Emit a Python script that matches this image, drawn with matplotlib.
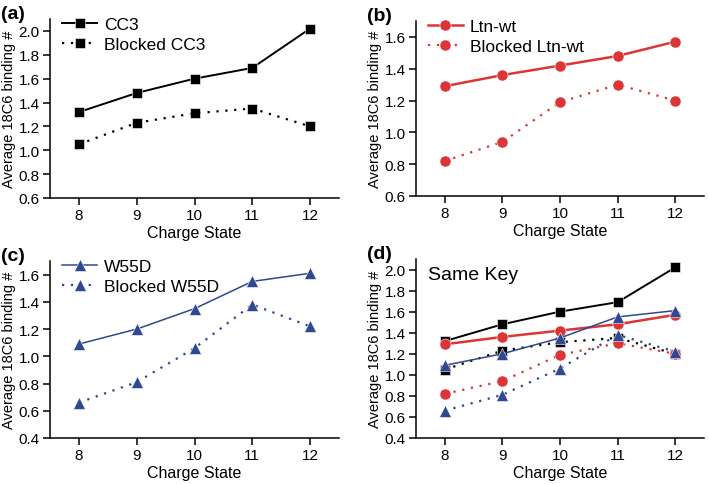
import matplotlib
matplotlib.use("Agg")
import matplotlib.pyplot as plt

plt.rcParams['font.family'] = ['Liberation Sans', 'DejaVu Sans']

charge = [8, 9, 10, 11, 12]
cc3 = [1.32, 1.48, 1.60, 1.69, 2.02]
cc3_blocked = [1.05, 1.23, 1.31, 1.35, 1.20]
ltn = [1.29, 1.36, 1.42, 1.48, 1.57]
ltn_blocked = [0.82, 0.94, 1.19, 1.30, 1.20]
w55d = [1.09, 1.20, 1.35, 1.55, 1.61]
w55d_blocked = [0.66, 0.81, 1.06, 1.38, 1.22]

BLACK = '#000000'
RED = '#dd3535'
BLUE = '#2e4892'
DOT = (0, (1, 3))

fig = plt.figure(figsize=(7.09, 4.85), dpi=100)
W, H = 709, 485


def mkax(l, r, t, b):
    return fig.add_axes([l / W, 1 - b / H, (r - l) / W, (b - t) / H])


axa = mkax(50, 339, 20, 199)
axb = mkax(416, 704, 22, 197)
axc = mkax(50, 339, 262, 439)
axd = mkax(416, 704, 260, 439)

styles = {
    'cc3': dict(color=BLACK, marker='s', ms=7, lw=1.4),
    'ltn': dict(color=RED, marker='o', ms=8, lw=1.8),
    'w55d': dict(color=BLUE, marker='^', ms=8.5, lw=1.1),
}


def plot_pair(ax, key, y, yb, lab, labb):
    st = styles[key]
    ax.plot(charge, y, color=st['color'], marker=st['marker'], ms=st['ms'],
            lw=st['lw'], label=lab, mec='white', mew=0.4, clip_on=False)
    ax.plot(charge, yb, color=st['color'], marker=st['marker'], ms=st['ms'],
            lw=1.6, ls=DOT, label=labb, mec='white', mew=0.4, clip_on=False)


plot_pair(axa, 'cc3', cc3, cc3_blocked, 'CC3', 'Blocked CC3')
plot_pair(axb, 'ltn', ltn, ltn_blocked, 'Ltn-wt', 'Blocked Ltn-wt')
plot_pair(axc, 'w55d', w55d, w55d_blocked, 'W55D', 'Blocked W55D')
plot_pair(axd, 'cc3', cc3, cc3_blocked, None, None)
plot_pair(axd, 'ltn', ltn, ltn_blocked, None, None)
plot_pair(axd, 'w55d', w55d, w55d_blocked, None, None)

ylims = {axa: (0.6, 2.1), axb: (0.6, 1.7), axc: (0.4, 1.7), axd: (0.4, 2.1)}
panel = {axa: '(a)', axb: '(b)', axc: '(c)', axd: '(d)'}

for ax in (axa, axb, axc, axd):
    ax.set_xlim(7.5, 12.5)
    ax.set_ylim(*ylims[ax])
    ax.set_xticks(charge)
    lo, hi = ylims[ax]
    ticks = [round(lo + 0.2 * i, 1) for i in range(int(round((hi - lo) / 0.2)) + 1) if lo + 0.2 * i <= hi + 1e-9]
    ax.set_yticks(ticks)
    ax.set_yticklabels([f'{t:.1f}' for t in ticks])
    for s in ('top', 'right'):
        ax.spines[s].set_visible(False)
    for s in ('left', 'bottom'):
        ax.spines[s].set_linewidth(1.1)
    ax.tick_params(direction='out', length=5, width=1.1, labelsize=11, pad=2.5)
    ax.set_xlabel('Charge State', fontsize=11.5, labelpad=2)
    ax.set_ylabel('Average 18C6 binding #', fontsize=10.5, labelpad=2)
    ax.text(-0.17, 1.08, panel[ax], transform=ax.transAxes, fontsize=14,
            fontweight='bold', ha='left', va='top')

for ax in (axa, axb, axc):
    ax.legend(loc='upper left', bbox_to_anchor=(0.03, 1.03), frameon=False,
              fontsize=12.5, handlelength=2.0, handletextpad=0.4,
              labelspacing=0.25, borderaxespad=0.0, borderpad=0.2)

axd.text(0.04, 0.96, 'Same Key', transform=axd.transAxes, fontsize=14,
         ha='left', va='top')

fig.savefig('out.png', dpi=100)
